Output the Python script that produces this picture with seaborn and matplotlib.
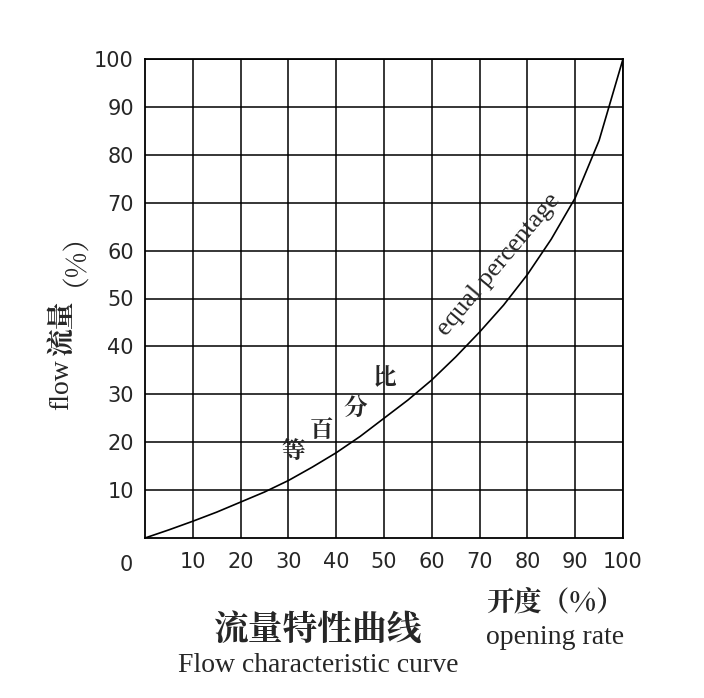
import matplotlib
matplotlib.use("Agg")
import matplotlib.pyplot as plt
import seaborn as sns
import pandas as pd

opening = [0, 5, 10, 15, 20, 25, 30, 35, 40, 45, 50, 55, 60, 65, 70, 75, 80, 85, 90, 95, 100]
flow = [0, 1.7, 3.5, 5.4, 7.5, 9.6, 12, 14.8, 17.8, 21.2, 25, 28.8, 33, 37.8, 43, 48.6,
        55, 62.4, 71, 83, 100]
ticks = [10, 20, 30, 40, 50, 60, 70, 80, 90, 100]

sns.set_theme(style="white")
plt.rcParams["font.family"] = ["Liberation Serif", "Noto Sans CJK SC", "DejaVu Sans"]
CJK = ["Noto Serif CJK SC", "Noto Sans CJK SC"]

fig = plt.figure(figsize=(7.04, 6.98), dpi=100)
W, H = 704, 698
ax = fig.add_axes([145 / W, 1 - 538 / H, (623 - 145) / W, (538 - 59) / H])

df = pd.DataFrame({"opening": opening, "flow": flow})
sns.lineplot(data=df, x="opening", y="flow", color="black", lw=1.2, ax=ax)

ax.set_xlim(0, 100)
ax.set_ylim(0, 100)
ax.set_xticks(ticks)
ax.set_yticks(ticks)
ax.grid(True, color="black", lw=1.1)
for s in ax.spines.values():
    s.set_color("black")
    s.set_linewidth(1.3)
ax.set_xlabel("")
ax.set_ylabel("")
ax.tick_params(axis="y", length=0, labelsize=15, pad=8)
ax.tick_params(axis="x", length=0, labelsize=15, pad=10)
ax.set_xticklabels([str(t) for t in ticks], fontfamily="DejaVu Sans")
ax.set_yticklabels([str(t) for t in ticks], fontfamily="DejaVu Sans")
ax.text(-4, -3.5, "0", transform=ax.transData, ha="center", va="top", fontsize=15,
        fontfamily="DejaVu Sans")

# curve labels
ax.text(74, 57, "equal percentage", rotation=50, ha="center", va="center", fontsize=19)
for ch, x, y in [("等", 31, 18), ("百", 37, 22.5), ("分", 44, 27), ("比", 50, 33.5)]:
    ax.text(x, y, ch, ha="center", va="center", fontsize=17, fontweight="bold", family=CJK)

fig.text(62 / W, 1 - 385 / H, "flow", rotation=90, ha="center", va="center", fontsize=20)
fig.text(62 / W, 1 - 328 / H, "流量", rotation=90, ha="center", va="center", fontsize=20,
         fontweight="bold", family=CJK)
fig.text(62 / W, 1 - 245 / H, "（%）", rotation=90, ha="center", va="center", fontsize=20,
         family=CJK)

fig.text(555 / W, 1 - 603 / H, "开度（%）", ha="center", va="center", fontsize=20,
         fontweight="bold", family=CJK)
fig.text(555 / W, 1 - 637 / H, "opening rate", ha="center", va="center", fontsize=20)
fig.text(318 / W, 1 - 630 / H, "流量特性曲线", ha="center", va="center", fontsize=25,
         fontweight="bold", family=CJK)
fig.text(318 / W, 1 - 666 / H, "Flow characteristic curve", ha="center", va="center",
         fontsize=20)

fig.savefig("out.png", dpi=100)
